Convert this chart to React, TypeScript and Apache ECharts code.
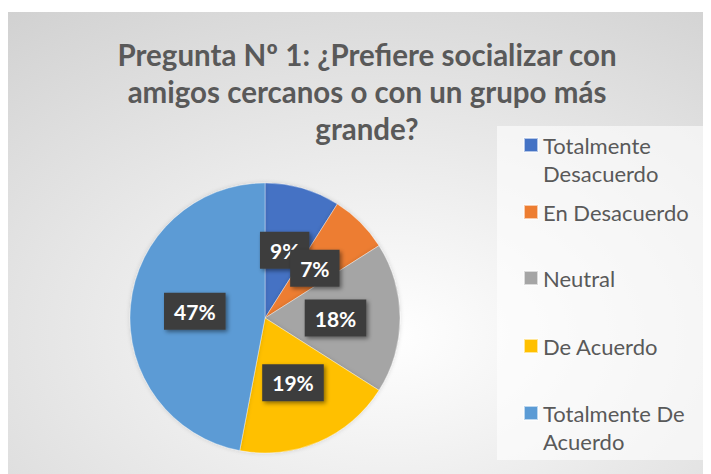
import React, { useEffect, useRef } from "react";
import * as echarts from "echarts";

const titleLines = [
  "Pregunta Nº 1: ¿Prefiere socializar con",
  "amigos cercanos o con un grupo más",
  "grande?",
];
const categories = [
  "Totalmente Desacuerdo",
  "En Desacuerdo",
  "Neutral",
  "De Acuerdo",
  "Totalmente De Acuerdo",
];
const legendLabels = [
  "Totalmente\nDesacuerdo",
  "En Desacuerdo",
  "Neutral",
  "De Acuerdo",
  "Totalmente De\nAcuerdo",
];
const values = [9, 7, 18, 19, 47];
const colors = ["#4472C4", "#ED7D31", "#A5A5A5", "#FFC000", "#5B9BD5"];

const FONT = "Lato";

export default function App() {
  const ref = useRef<HTMLDivElement>(null);
  useEffect(() => {
    if (!ref.current) return;
    const chart = echarts.init(ref.current, null, { renderer: "svg" });
    const markerCenters = [137, 204, 270, 338, 405];
    const legends = categories.map((name, i) => {
      const twoLine = legendLabels[i].includes("\n");
      return {
        data: [{ name, icon: "rect" }],
        orient: "vertical",
        left: 515,
        top: markerCenters[i] - (twoLine ? 42 : 14),
        padding: 0,
        itemWidth: 14,
        itemHeight: 14,
        selectedMode: false,
        formatter: () =>
          twoLine
            ? "{e| }\n{t|" + legendLabels[i].split("\n").join("}\n{t|") + "}"
            : "{t|" + legendLabels[i] + "}",
        textStyle: {
          fontFamily: FONT,
          fontSize: 22,
          color: "#595959",
          lineHeight: 28,
          rich: {
            e: { fontFamily: FONT, fontSize: 22, lineHeight: 28, color: "#595959" },
            t: { fontFamily: FONT, fontSize: 22, lineHeight: 28, color: "#595959" },
          },
        },
      };
    });
    chart.setOption({
      animation: false,
      backgroundColor: "transparent",
      graphic: [
        {
          type: "rect",
          z: -10,
          silent: true,
          shape: { x: 0, y: 4, width: 703, height: 462 },
          style: {
            fill: {
              type: "radial",
              x: 0.543,
              y: 0.7,
              r: 1.08,
              colorStops: [
                { offset: 0, color: "#ffffff" },
                { offset: 1, color: "#c7c7c7" },
              ],
            },
          },
        },
        {
          type: "rect",
          z: -5,
          silent: true,
          shape: { x: 489, y: 118, width: 211, height: 334 },
          style: { fill: "rgba(255,255,255,0.6)" },
        },
      ],
      title: {
        text: titleLines.join("\n"),
        left: 359,
        top: 28,
        padding: 0,
        textAlign: "center",
        textStyle: {
          fontFamily: FONT,
          fontWeight: "bold",
          fontSize: 29.5,
          lineHeight: 37,
          color: "#595959",
        },
      },
      legend: legends,
      series: [
        {
          type: "pie",
          center: [257, 310],
          radius: [0, 135],
          startAngle: 90,
          clockwise: true,
          avoidLabelOverlap: false,
          color: colors,
          itemStyle: {
            borderColor: "rgba(255,255,255,0.6)",
            borderWidth: 0.6,
            shadowColor: "rgba(0,0,0,0.15)",
            shadowBlur: 4,
          },
          label: {
            show: true,
            position: "inside",
            formatter: (p: any) => `${Math.round(p.percent)}%`,
            fontFamily: FONT,
            fontWeight: "bold",
            fontSize: 21,
            color: "#ffffff",
            backgroundColor: "#3d3d3d",
            padding: [8, 10],
            shadowColor: "rgba(0,0,0,0.45)",
            shadowBlur: 4,
            shadowOffsetX: 2,
            shadowOffsetY: 2,
          },
          labelLayout: { hideOverlap: false },
          labelLine: { show: false },
          emphasis: { disabled: true },
          data: categories.map((name, i) => ({ name, value: values[i] })),
        },
      ],
    });
    return () => chart.dispose();
  }, []);
  return <div ref={ref} style={{ width: 703, height: 466 }} />;
}
